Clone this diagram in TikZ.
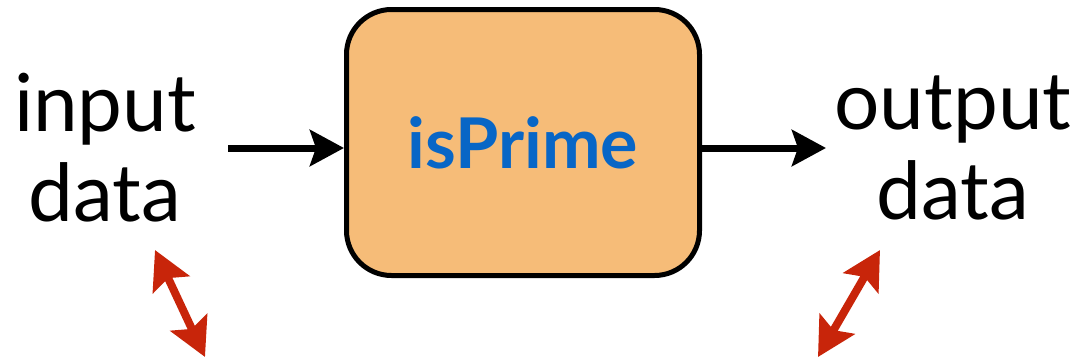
\documentclass[tikz,border=0pt]{standalone}
\usepackage{fontspec}
\setmainfont{Lato}
\usetikzlibrary{arrows.meta}
\definecolor{boxfill}{HTML}{F6BC78}
\definecolor{titleblue}{HTML}{0866C6}
\definecolor{linkred}{HTML}{C8250A}
\tikzset{
  label text/.style={font=\fontsize{80}{90}\selectfont, align=center, inner sep=0pt, text=black},
  funcbox/.style={draw=black, line width=5pt, fill=boxfill, rounded corners=45pt,
    minimum width=353pt, minimum height=266pt, inner sep=0pt,
    font=\fontsize{70}{80}\bfseries\selectfont, text=titleblue},
  flow/.style={line width=7pt, -{Stealth[length=34pt,width=36pt,inset=6pt]}},
  link/.style={draw=linkred, line width=8pt,
    {Stealth[length=38pt,width=40pt,inset=7pt]}-{Stealth[length=38pt,width=40pt,inset=7pt]}}
}
\begin{document}
\begin{tikzpicture}[x=1pt,y=-1pt]
  \useasboundingbox (0,0) rectangle (1081,362);
  % the function block
  \node[funcbox] (fn) at (523,142.5) {isPrime};
  % input and output labels
  \node[label text] (in) at (105,148) {input\\data};
  \node[label text] (out) at (953,148) {output\\data};
  % data flow into and out of the block
  \coordinate (inflow) at (228,148);
  \coordinate (outflow) at (826,148);
  \draw[flow] (inflow) -- (inflow -| fn.west);
  \draw[flow] (outflow -| fn.east) -- (outflow);
  % red double-headed links
  \coordinate (la) at (155,250);
  \coordinate (lb) at (205,357);
  \coordinate (ra) at (880,250);
  \coordinate (rb) at (818,357);
  \draw[link] (la) -- (lb);
  \draw[link] (ra) -- (rb);
\end{tikzpicture}
\end{document}
